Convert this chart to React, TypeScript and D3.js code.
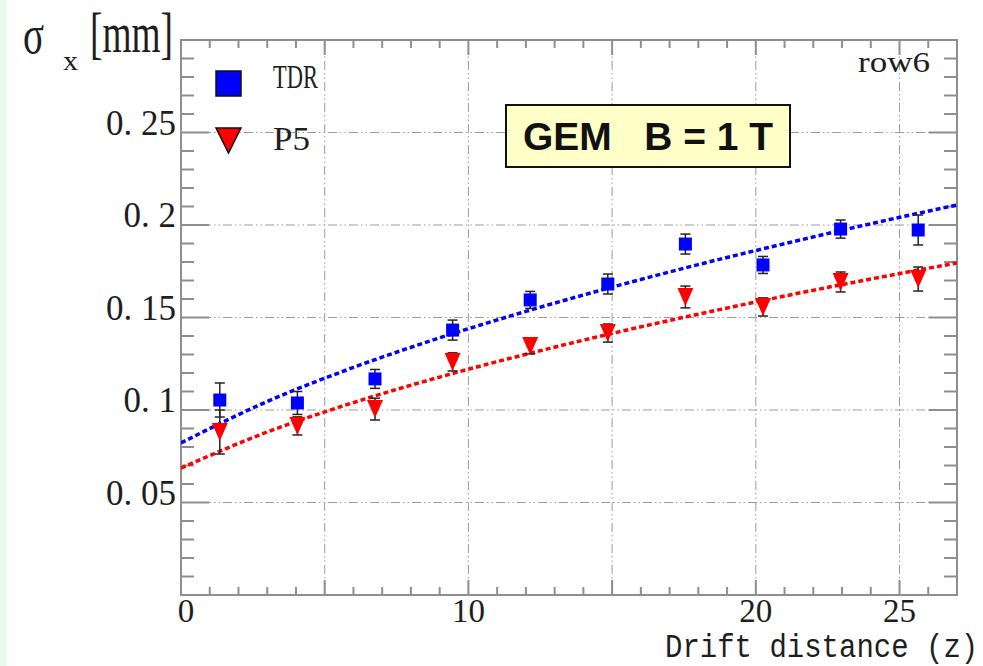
import * as d3 from "d3";

// drift distance of each measurement (z)
const driftZ = [1.35, 4.05, 6.75, 9.45, 12.15, 14.85, 17.55, 20.25, 22.95, 25.65];

// TDR gas: sigma_x [mm] and its error
const tdrSigma = [0.1054, 0.1038, 0.1168, 0.1432, 0.1595, 0.1681, 0.1897, 0.1784, 0.1978, 0.1973];
const tdrError = [0.0092, 0.0062, 0.0051, 0.0054, 0.0046, 0.0054, 0.0054, 0.0046, 0.0049, 0.0081];

// P5 gas: sigma_x [mm] and its error
const p5Sigma = [0.0881, 0.0914, 0.1005, 0.126, 0.1346, 0.1416, 0.1611, 0.1557, 0.1692, 0.1708];
const p5Error = [0.0119, 0.0049, 0.0059, 0.0049, 0.0043, 0.0049, 0.0059, 0.0049, 0.0054, 0.0065];

// fitted curves at these z
const fitZ = [0, 3, 6, 9, 12, 15, 18, 21, 24, 27];
const tdrFit = [0.0822, 0.1046, 0.123, 0.139, 0.1533, 0.1664, 0.1786, 0.1899, 0.2007, 0.2108];
const p5Fit = [0.0686, 0.0881, 0.104, 0.1178, 0.1301, 0.1414, 0.1518, 0.1616, 0.1708, 0.1795];

const yTickValues = [0.05, 0.1, 0.15, 0.2, 0.25];
const yTickLabels = ["0. 05", "0. 1", "0. 15", "0. 2", "0. 25"];
const xTickValues = [0, 10, 20, 25];
const xTickLabels = ["0", "10", "20", "25"];
const xGridValues = [5, 10, 15, 20, 25];

const SERIF = "'Liberation Serif', 'DejaVu Serif', serif";
const MONO = "'Liberation Mono', 'DejaVu Sans Mono', monospace";
const SANS = "'Liberation Sans', Arial, sans-serif";

export default function App() {
  const width = 983;
  const height = 666;
  const plot = { left: 181, right: 957, top: 40, bottom: 595 };

  const x = d3.scaleLinear().domain([0, 27]).range([plot.left, plot.right]);
  const y = d3.scaleLinear().domain([0, 0.3]).range([plot.bottom, plot.top]);

  const xTicks = d3.range(1, 27);
  const yTicks = d3.range(1, 30).map((i) => i / 100);

  const axisColor = "#8e8e8e";
  const textColor = "#1e1e1e";
  const gridDash = "9 3 1.5 3 1.5 3";

  const fitLine = d3
    .line<number>()
    .x((_, i) => x(fitZ[i]))
    .y((d) => y(d))
    .curve(d3.curveMonotoneX);

  const triangle = (cx: number, cy: number, w: number, h: number) =>
    `M${cx - w / 2},${cy - h / 2}L${cx + w / 2},${cy - h / 2}L${cx},${cy + h / 2}Z`;

  return (
    <svg
      width={width}
      height={height}
      style={{ position: "absolute", left: 0, top: 0, display: "block" }}
    >
      <rect x={0} y={0} width={width} height={height} fill="#ffffff" />
      <rect x={0} y={0} width={7} height={height} fill="#eafaf0" />
      <defs>
        <clipPath id="plot-clip">
          <rect x={plot.left} y={plot.top} width={plot.right - plot.left} height={plot.bottom - plot.top} />
        </clipPath>
      </defs>

      {/* grid */}
      <g stroke="#9c9c9c" strokeWidth={1} strokeDasharray={gridDash}>
        {yTickValues.map((v) => (
          <line key={`gy${v}`} x1={plot.left} x2={plot.right} y1={y(v)} y2={y(v)} />
        ))}
        {xGridValues.map((v) => (
          <line key={`gx${v}`} x1={x(v)} x2={x(v)} y1={plot.top} y2={plot.bottom} />
        ))}
      </g>

      {/* ticks on all four sides, pointing inward */}
      <g stroke={axisColor} strokeWidth={2}>
        {xTicks.map((v) => {
          const len = v % 5 === 0 ? 15 : 8;
          return (
            <g key={`xt${v}`}>
              <line x1={x(v)} x2={x(v)} y1={plot.bottom} y2={plot.bottom - len} />
              <line x1={x(v)} x2={x(v)} y1={plot.top} y2={plot.top + len} />
            </g>
          );
        })}
        {yTicks.map((v) => {
          const len = Math.round(v * 100) % 5 === 0 ? 28 : 13;
          return (
            <g key={`yt${v}`}>
              <line x1={plot.left} x2={plot.left + len} y1={y(v)} y2={y(v)} />
              <line x1={plot.right} x2={plot.right - len} y1={y(v)} y2={y(v)} />
            </g>
          );
        })}
      </g>
      <rect
        x={plot.left}
        y={plot.top}
        width={plot.right - plot.left}
        height={plot.bottom - plot.top}
        fill="none"
        stroke={axisColor}
        strokeWidth={2}
      />

      {/* fits */}
      <g clipPath="url(#plot-clip)" fill="none" strokeWidth={3.5} strokeDasharray="5 3">
        <path d={fitLine(tdrFit) ?? ""} stroke="#0000ff" />
        <path d={fitLine(p5Fit) ?? ""} stroke="#ff0000" />
      </g>

      {/* error bars */}
      <g stroke="#222" strokeWidth={1.5}>
        {driftZ.map((z, i) => (
          <g key={`eb${i}`}>
            <line x1={x(z)} x2={x(z)} y1={y(tdrSigma[i] - tdrError[i])} y2={y(tdrSigma[i] + tdrError[i])} />
            <line x1={x(z) - 5} x2={x(z) + 5} y1={y(tdrSigma[i] - tdrError[i])} y2={y(tdrSigma[i] - tdrError[i])} />
            <line x1={x(z) - 5} x2={x(z) + 5} y1={y(tdrSigma[i] + tdrError[i])} y2={y(tdrSigma[i] + tdrError[i])} />
            <line x1={x(z)} x2={x(z)} y1={y(p5Sigma[i] - p5Error[i])} y2={y(p5Sigma[i] + p5Error[i])} />
            <line x1={x(z) - 5} x2={x(z) + 5} y1={y(p5Sigma[i] - p5Error[i])} y2={y(p5Sigma[i] - p5Error[i])} />
            <line x1={x(z) - 5} x2={x(z) + 5} y1={y(p5Sigma[i] + p5Error[i])} y2={y(p5Sigma[i] + p5Error[i])} />
          </g>
        ))}
      </g>

      {/* markers */}
      {driftZ.map((z, i) => (
        <rect key={`tdr${i}`} x={x(z) - 6.5} y={y(tdrSigma[i]) - 6.5} width={13} height={13} fill="#0000ff" />
      ))}
      {driftZ.map((z, i) => (
        <path key={`p5${i}`} d={triangle(x(z), y(p5Sigma[i]), 16, 18)} fill="#ff0000" />
      ))}

      {/* axis labels */}
      <g fontFamily={SERIF} fill={textColor}>
        {yTickValues.map((v, i) => (
          <text key={`yl${v}`} x={176} y={y(v) + 2} fontSize={35} textAnchor="end">
            {yTickLabels[i]}
          </text>
        ))}
        {xTickValues.map((v, i) => (
          <text key={`xl${v}`} x={x(v) + (i === 0 ? 5 : 0)} y={622} fontSize={33} textAnchor="middle">
            {xTickLabels[i]}
          </text>
        ))}
        <text x={23} y={53} fontSize={55} textLength={21} lengthAdjust="spacingAndGlyphs">σ</text>
        <text x={63} y={70} fontSize={28} textLength={15} lengthAdjust="spacingAndGlyphs">x</text>
        <text x={90} y={52} fontSize={56} textLength={83} lengthAdjust="spacingAndGlyphs">[mm]</text>
        <text x={858} y={72} fontSize={30} textLength={72} lengthAdjust="spacingAndGlyphs">row6</text>
        <text x={273} y={88} fontSize={34} textLength={45} lengthAdjust="spacingAndGlyphs">TDR</text>
        <text x={273} y={150} fontSize={34} textLength={37} lengthAdjust="spacingAndGlyphs">P5</text>
      </g>
      <text
        transform="translate(665, 657) scale(1, 1.15)"
        fontFamily={MONO}
        fontSize={29}
        fill={textColor}
      >
        Drift distance (z)
      </text>

      {/* legend markers */}
      <rect x={216} y={71} width={25} height={25} fill="#0000ff" stroke="#111" strokeWidth={1.5} />
      <path d={triangle(228.5, 140.5, 25, 25)} fill="#ff0000" stroke="#111" strokeWidth={1.5} />

      {/* GEM label box */}
      <rect x={506} y={105} width={284} height={62} fill="#ffffc8" stroke="#111" strokeWidth={2} />
      <text
        x={523}
        y={150}
        fontFamily={SANS}
        fontWeight={700}
        fontSize={39}
        fill="#111"
        textLength={250}
        lengthAdjust="spacingAndGlyphs"
        style={{ whiteSpace: "pre" }}
      >
        {"GEM   B = 1 T"}
      </text>
    </svg>
  );
}
